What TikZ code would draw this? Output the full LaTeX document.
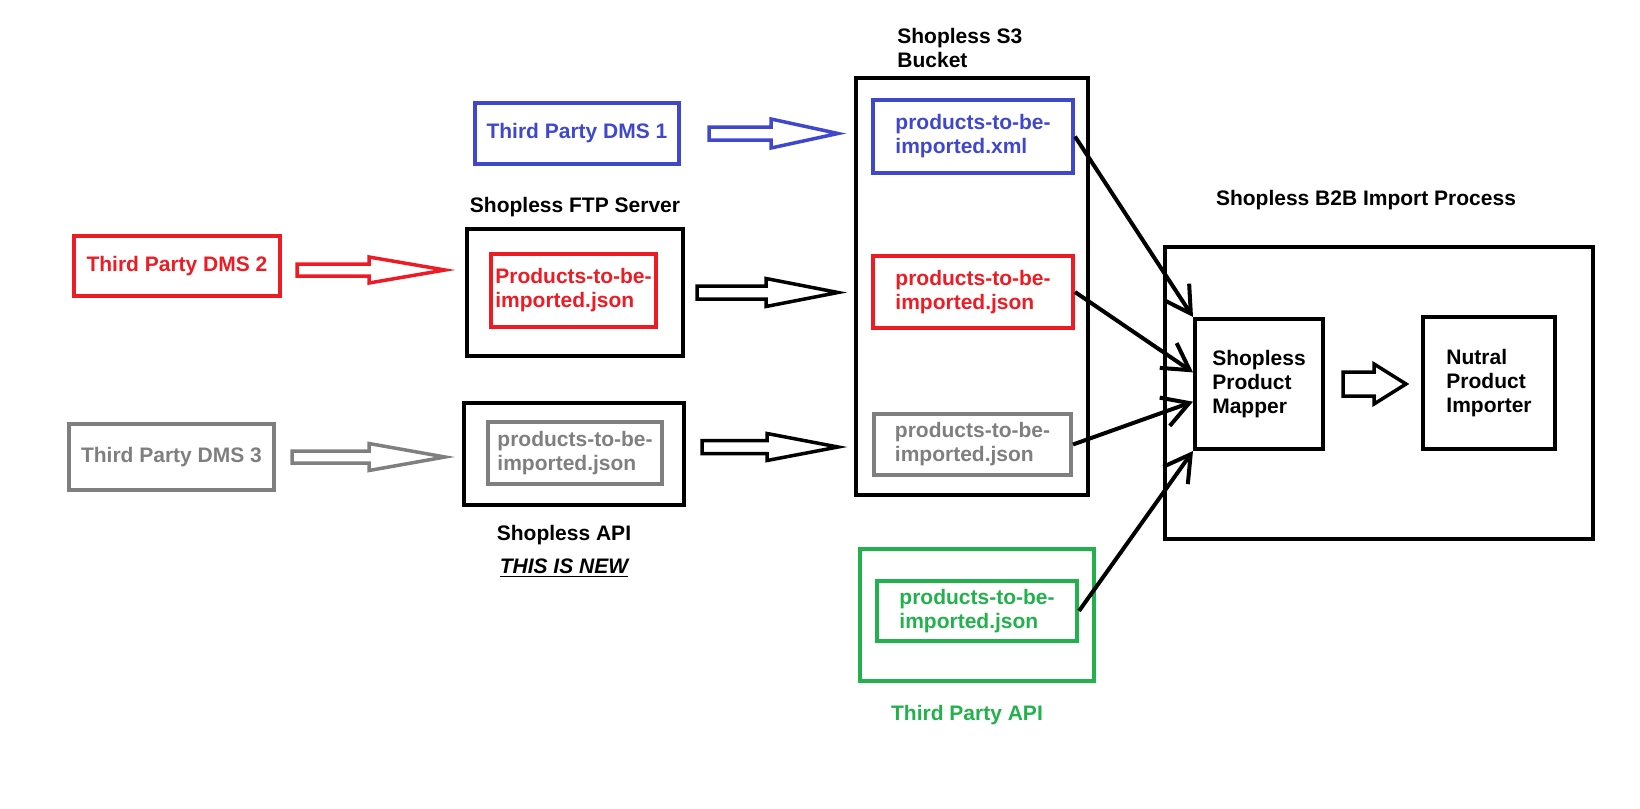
\documentclass[tikz,border=0pt]{standalone}
\usepackage{fontspec}
\setmainfont{Liberation Sans}
\usepackage{xcolor}
\usetikzlibrary{positioning,arrows.meta,calc}

\definecolor{dmsblue}{RGB}{63,72,204}
\definecolor{dmsred}{RGB}{237,28,36}
\definecolor{dmsgray}{RGB}{127,127,127}
\definecolor{dmsgreen}{RGB}{34,177,76}

\tikzset{
  fat start/.store in=\fatstart, fat start=8pt,
  fat end/.store in=\fatend,     fat end=8pt,
  fat shaft/.store in=\fatshaft, fat shaft=3.25pt,
  fat head/.store in=\fathead,   fat head=7pt,
  fat tip/.store in=\fattip,     fat tip=36pt,
  fat dy/.store in=\fatdy,       fat dy=0pt,
}

% hollow block arrow between two nodes
\newcommand{\fatarrow}[3][]{%
  \begin{scope}[fatline,#1]
    \draw let \p1=(#2.east), \p2=(#3.west) in
      (\x1+\fatstart,\y1+\fatdy+\fatshaft) -- (\x2-\fatend-\fattip,\y1+\fatdy+\fatshaft)
      -- (\x2-\fatend-\fattip,\y1+\fatdy+\fathead) -- (\x2-\fatend,\y1+\fatdy)
      -- (\x2-\fatend-\fattip,\y1+\fatdy-\fathead) -- (\x2-\fatend-\fattip,\y1+\fatdy-\fatshaft)
      -- (\x1+\fatstart,\y1+\fatdy-\fatshaft) -- cycle;
  \end{scope}}

\begin{document}
\begin{tikzpicture}[
  x=0.5pt, y=-0.5pt,
  font=\fontsize{10.5}{12}\selectfont\bfseries,
  box/.style    = {rectangle, draw, line width=2pt, inner sep=0pt, align=left},
  tinted/.style = {box, draw=#1, text=#1},
  lbl/.style    = {inner sep=0pt, align=left},
  feed/.style   = {line width=2pt, -{Straight Barb[length=13pt,width=15pt]}},
  fatline/.style = {line width=1.75pt, line join=miter},
]
  \useasboundingbox (0,0) rectangle (1640,809);

  % sources
  \node[tinted=dmsblue, minimum width=102pt, minimum height=30.5pt] (dms1) at (577,133.5) {Third Party DMS 1};
  \node[tinted=dmsred,  minimum width=103pt, minimum height=30pt]   (dms2) at (177,266) {Third Party DMS 2};
  \node[tinted=dmsgray, minimum width=102.5pt, minimum height=33pt] (dms3) at (171.5,457) {Third Party DMS 3};

  % ftp server and api
  \node[box, minimum width=108pt, minimum height=63.5pt] (ftp) at (575,292.5) {};
  \node[tinted=dmsred, minimum width=82.5pt, minimum height=36.5pt] (ftpin) at (573.5,290.5) {Products-to-be-\\imported.json};
  \node[lbl, above=5pt of ftp] (ftplbl) {Shopless FTP Server};

  \node[box, minimum width=110pt, minimum height=51pt] (api) at (574,454) {};
  \node[tinted=dmsgray, minimum width=87pt, minimum height=31pt] (apiin) at (575,453) {products-to-be-\\imported.json};
  \node[lbl, below=8.75pt of api, xshift=-5pt] (apilbl) {Shopless API};
  \node[lbl, below=6.75pt of apilbl] (newlbl) {\textit{\underline{THIS IS NEW}}};

  % s3 bucket
  \node[box, minimum width=116pt, minimum height=208.5pt] (s3) at (972,286.5) {};
  \node[lbl, above right=3.75pt and 21.5pt of s3.north west] (s3lbl) {Shopless S3\\Bucket};
  \node[tinted=dmsblue, minimum width=100pt, minimum height=36.5pt] (s3xml) at (973,136.5) {products-to-be-\\imported.xml};
  \node[tinted=dmsred,  minimum width=100pt, minimum height=36pt]   (s3ftp) at (973,292) {products-to-be-\\imported.json};
  \node[tinted=dmsgray, minimum width=98.5pt, minimum height=30.5pt] (s3api) at (972.5,444.5) {products-to-be-\\imported.json};

  % third party api
  \node[tinted=dmsgreen, minimum width=117pt, minimum height=66pt] (tpapi) at (977,615) {};
  \node[tinted=dmsgreen, minimum width=100pt, minimum height=30pt] (tpjson) at (977,611) {products-to-be-\\imported.json};
  \node[lbl, text=dmsgreen, below=10.75pt of tpapi, xshift=-5pt] (tpapilbl) {Third Party API};

  % import process
  \node[box, minimum width=214pt, minimum height=146pt] (b2b) at (1379,393) {};
  \node[lbl, above=17.5pt of b2b, xshift=-6.5pt] (b2blbl) {Shopless B2B Import Process};
  \node[box, minimum width=64pt, minimum height=65pt] (mapper) at (1259,384) {Shopless\\Product\\Mapper};
  \node[box, minimum width=66pt, minimum height=66pt] (importer) at (1489,383) {Nutral\\Product\\Importer};

  % block arrows
  \fatarrow[draw=dmsblue, fat start=14pt, fat head=7.25pt, fat tip=33.5pt]{dms1}{s3}
  \fatarrow[draw=dmsred, fat start=7.5pt, fat end=10pt, fat shaft=3pt, fat head=6.5pt, fat tip=38pt, fat dy=-2pt]{dms2}{ftp}
  \fatarrow[draw=dmsgray, fat shaft=3pt, fat end=8.5pt, fat head=6.75pt, fat tip=38pt]{dms3}{api}
  \fatarrow[fat start=6pt]{ftp}{s3}
  \fatarrow[fat dy=3.5pt, fat head=6.75pt, fat tip=35.5pt]{api}{s3}
  \fatarrow[fat start=9pt, fat end=7.5pt, fat shaft=6pt, fat head=10pt, fat tip=16pt]{mapper}{importer}

  % feeds into the mapper
  \draw[feed] (s3xml.east) -- (mapper.north west);
  \draw[feed] (s3ftp.east) -- (mapper.170);
  \draw[feed] (s3api.east) -- (mapper.195);
  \draw[feed] (tpjson.east) -- (mapper.south west);
\end{tikzpicture}
\end{document}
